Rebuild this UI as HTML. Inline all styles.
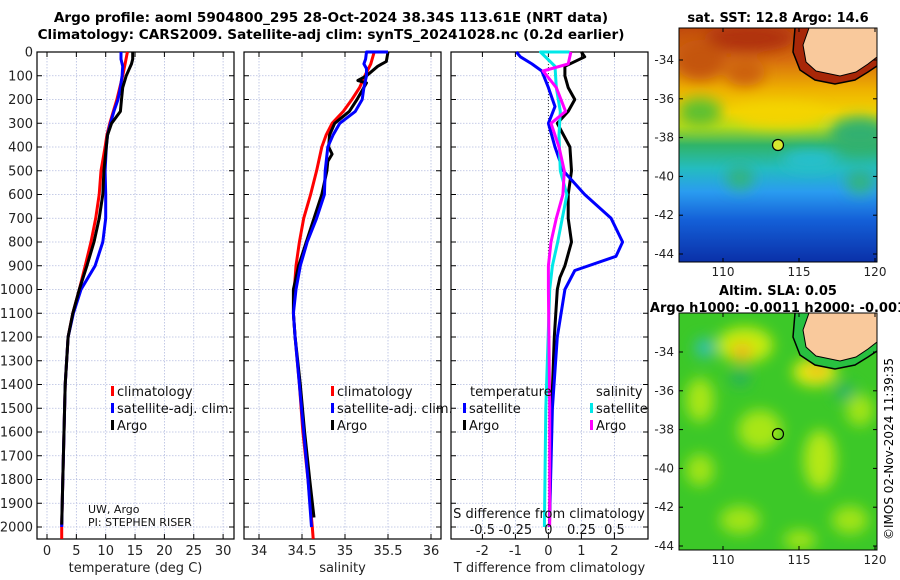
<!DOCTYPE html>
<html><head><meta charset="utf-8"><style>
html,body{margin:0;padding:0;background:#fff;}
svg{display:block;font-family:"DejaVu Sans","Liberation Sans",sans-serif;}
</style></head><body>
<svg id="c" width="900" height="580" viewBox="0 0 900 580" xmlns="http://www.w3.org/2000/svg">
<defs>
<filter id="bl" x="-50%" y="-50%" width="200%" height="200%"><feGaussianBlur stdDeviation="7"/></filter>
<clipPath id="m1"><rect x="679" y="28" width="198" height="234"/></clipPath>
<clipPath id="m2"><rect x="679" y="313" width="198" height="237"/></clipPath>
<linearGradient id="sstg" x1="0" y1="0" x2="0" y2="1">
<stop offset="0" stop-color="#c04a0c"/><stop offset="0.14" stop-color="#d8700e"/>
<stop offset="0.26" stop-color="#eeb000"/><stop offset="0.36" stop-color="#f2d400"/>
<stop offset="0.42" stop-color="#b8dc18"/><stop offset="0.5" stop-color="#30b468"/>
<stop offset="0.6" stop-color="#24bcc0"/><stop offset="0.7" stop-color="#2a9cf0"/>
<stop offset="0.82" stop-color="#1460d8"/><stop offset="1" stop-color="#0a30a8"/>
</linearGradient>
</defs>
<text x="331" y="22" font-size="13.6" font-weight="bold" text-anchor="middle">Argo profile: aoml 5904800_295 28-Oct-2024 38.34S 113.61E (NRT data)</text>
<text x="331" y="39" font-size="13.6" font-weight="bold" text-anchor="middle">Climatology: CARS2009. Satellite-adj clim: synTS_20241028.nc (0.2d earlier)</text>
<g id="plots"></g>

<g>
<text x="778" y="22" font-size="13" font-weight="bold" text-anchor="middle">sat. SST: 12.8 Argo: 14.6</text>
<g clip-path="url(#m1)">
<rect x="679" y="28" width="198" height="234" fill="url(#sstg)"/>
<g filter="url(#bl)">
<ellipse cx="750" cy="38" rx="45" ry="14" fill="#b0300a"/>
<ellipse cx="700" cy="60" rx="25" ry="20" fill="#c45410"/>
<ellipse cx="745" cy="72" rx="20" ry="14" fill="#cc6010"/>
<ellipse cx="700" cy="112" rx="22" ry="14" fill="#5cc030"/>
<ellipse cx="860" cy="135" rx="30" ry="18" fill="#30b070"/>
<ellipse cx="780" cy="115" rx="45" ry="12" fill="#f4d400"/>
<ellipse cx="740" cy="178" rx="14" ry="12" fill="#30b480"/>
<ellipse cx="860" cy="182" rx="14" ry="12" fill="#30b480"/>
<ellipse cx="810" cy="160" rx="28" ry="10" fill="#28c0d0"/>
</g>
<path d="M795,28 L793,52 L800,70 L815,80 L835,84 L855,80 L868,72 L877,66 L877,28 Z" fill="#a82808"/>
<path d="M809,28 L803,45 L806,62 L816,71 L840,76 L856,72 L868,64 L877,57 L877,28 Z" fill="#f9c99c"/>
<path d="M795,28 L793,52 L800,70 L815,80 L835,84 L855,80 L868,72 L877,66" fill="none" stroke="#000" stroke-width="1.5"/>
<path d="M809,28 L803,45 L806,62 L816,71 L840,76 L856,72 L868,64 L877,57" fill="none" stroke="#000" stroke-width="1"/>
<circle cx="778" cy="145" r="5.5" fill="#d8e830" stroke="#000" stroke-width="1.2"/>
</g>
<rect x="679" y="28" width="198" height="234" fill="none" stroke="#000" stroke-width="1"/>
<g id="map1ax" font-size="12"></g>
</g>

<g>
<text x="778" y="295" font-size="13" font-weight="bold" text-anchor="middle">Altim. SLA: 0.05</text>
<text x="778" y="312" font-size="13" font-weight="bold" text-anchor="middle">Argo h1000: -0.0011 h2000: -0.001</text>
<g clip-path="url(#m2)">
<rect x="679" y="313" width="198" height="237" fill="#3cc828"/>
<g filter="url(#bl)">
<ellipse cx="745" cy="345" rx="28" ry="18" fill="#c8ec10"/>
<ellipse cx="742" cy="352" rx="10" ry="9" fill="#f0b418"/>
<ellipse cx="705" cy="348" rx="10" ry="10" fill="#30c0b0"/>
<ellipse cx="815" cy="372" rx="22" ry="14" fill="#e8ec10"/>
<ellipse cx="817" cy="370" rx="10" ry="7" fill="#f0b820"/>
<ellipse cx="700" cy="400" rx="14" ry="22" fill="#a8e618"/>
<ellipse cx="760" cy="430" rx="22" ry="20" fill="#a8e618"/>
<ellipse cx="820" cy="460" rx="16" ry="30" fill="#b4e818"/>
<ellipse cx="700" cy="470" rx="14" ry="16" fill="#a0e418"/>
<ellipse cx="860" cy="410" rx="14" ry="16" fill="#a0e418"/>
<ellipse cx="740" cy="520" rx="20" ry="14" fill="#a0e418"/>
<ellipse cx="850" cy="520" rx="18" ry="14" fill="#a0e418"/>
<ellipse cx="800" cy="540" rx="16" ry="10" fill="#a0e418"/>
<ellipse cx="740" cy="378" rx="10" ry="8" fill="#28b060"/>
<ellipse cx="845" cy="392" rx="10" ry="8" fill="#28b070"/>
</g>
<path d="M795,313 L793,337 L800,355 L815,365 L835,369 L855,365 L868,357 L877,351 L877,313 Z" fill="#28c040"/>
<path d="M809,313 L803,330 L806,347 L816,356 L840,361 L856,357 L868,349 L877,342 L877,313 Z" fill="#f9c99c"/>
<path d="M795,313 L793,337 L800,355 L815,365 L835,369 L855,365 L868,357 L877,351" fill="none" stroke="#000" stroke-width="1.5"/>
<path d="M809,313 L803,330 L806,347 L816,356 L840,361 L856,357 L868,349 L877,342" fill="none" stroke="#000" stroke-width="1"/>
<circle cx="778" cy="434" r="5.5" fill="none" stroke="#000" stroke-width="1.2"/>
</g>
<rect x="679" y="313" width="198" height="237" fill="none" stroke="#000" stroke-width="1"/>
<g id="map2ax" font-size="12"></g>
</g>
<text transform="translate(893,540) rotate(-90)" font-size="12">©IMOS 02-Nov-2024 11:39:35</text>
</svg>
<script>
const NS='http://www.w3.org/2000/svg';
const svg=document.getElementById('c');
const plots=document.getElementById('plots');
function mk(tag,attrs,parent,text){const e=document.createElementNS(NS,tag);for(const k in attrs)e.setAttribute(k,attrs[k]);if(text!==undefined)e.textContent=text;(parent||plots).appendChild(e);return e;}

// ---- data ----
const depthTicks=[0,100,200,300,400,500,600,700,800,900,1000,1100,1200,1300,1400,1500,1600,1700,1800,1900,2000];
const tempTicks=[0,5,10,15,20,25,30];
const salTicks=[34,34.5,35,35.5,36];
const salTickLabels=['34','34.5','35','35.5','36'];
const tdiffTicks=[-2,-1,0,1,2];
const sdiffTicks=[-0.5,-0.25,0,0.25,0.5];
const sdiffTickLabels=['-0.5','-0.25','0','0.25','0.5'];

const tClimDepth=[0,50,100,150,200,250,300,350,400,500,600,700,800,900,1000,1100,1200,1400,1600,1800,2000,2050];
const tClim=[13.7,13.3,12.9,12.4,11.9,11.3,10.7,10.2,9.9,9.2,8.9,8.3,7.5,6.5,5.5,4.4,3.6,3.1,2.9,2.7,2.5,2.5];
const tSatDepth=[0,30,60,100,150,200,250,300,350,400,500,600,700,800,900,1000,1100,1200,1400,1600,1800,2000];
const tSat=[12.6,12.6,12.9,12.8,12.5,12.1,11.4,10.8,10.3,10.1,9.9,10.0,10.0,9.5,8.2,5.8,4.5,3.6,3.1,2.9,2.7,2.5];
const tArgoDepth=[0,30,50,100,150,200,250,300,350,400,500,600,700,800,900,1000,1100,1200,1400,1600,1800,1990];
const tArgo=[14.6,14.6,14.4,13.5,12.9,12.7,12.5,11.0,10.3,10.1,9.7,9.5,8.9,8.0,6.8,5.5,4.4,3.6,3.1,2.9,2.7,2.5];

const sClimDepth=[0,50,100,150,200,250,300,350,400,500,600,700,800,900,1000,1100,1200,1400,1600,1800,2000,2050];
const sClim=[35.34,35.30,35.23,35.17,35.08,34.98,34.85,34.78,34.73,34.67,34.60,34.52,34.47,34.43,34.41,34.40,34.42,34.47,34.51,34.57,34.62,34.63];
const sSatDepth=[0,0,30,50,70,100,150,200,250,300,350,400,500,600,700,800,900,1000,1100,1200,1400,1600,1800,2000];
const sSat=[35.5,35.25,35.24,35.22,35.25,35.25,35.22,35.20,35.12,34.94,34.86,34.80,34.77,34.76,34.67,34.56,34.48,34.43,34.40,34.42,34.47,34.52,34.57,34.61];
const sArgoDepth=[0,40,60,100,120,130,200,250,300,350,400,430,460,500,600,700,800,900,1000,1100,1200,1400,1600,1800,1960];
const sArgo=[35.5,35.48,35.38,35.25,35.15,35.25,35.14,35.05,34.88,34.82,34.81,34.85,34.80,34.79,34.73,34.64,34.55,34.46,34.40,34.40,34.42,34.48,34.53,34.59,34.64];

const dtSatDepth=[0,20,50,80,150,230,300,400,500,600,700,800,860,920,1000,1200,1500,2000];
const dtSat=[-0.97,-0.85,-0.5,-0.2,0,0.2,0,0.2,0.45,1.1,1.9,2.25,2.05,0.8,0.5,0.27,0.12,0.03];
const dtArgoDepth=[0,20,60,100,150,200,250,300,400,500,600,700,800,900,950,1000,1200,1500,2000];
const dtArgo=[1.0,1.1,0.5,0.5,0.6,0.8,0.6,0.27,0.65,0.7,0.6,0.6,0.7,0.5,0.35,0.27,0.18,0.1,0.03];
const dsSatDepth=[0,0,60,150,250,350,500,600,800,900,1000,1500,2000];
const dsSat=[0.16,-0.06,0.05,0.06,0.09,0.08,0.09,0.14,0.07,0.03,0.01,-0.02,-0.03];
const dsArgoDepth=[0,50,80,150,250,300,400,500,600,700,800,900,1000,1500,2000];
const dsArgo=[0.17,0.15,-0.04,0.06,0.13,0.02,0.08,0.12,0.11,0.06,0.02,0.0,0.0,0.01,0.01];

const lonTicks=[110,115,120];
const lat1Ticks=[-34,-36,-38,-40,-42,-44];

// ---- axes ----
const Y0=52, PY=0.2375, BOT=539;
const yD=d=>Y0+d*PY;
const xT=v=>47+v*5.87;
const xS=v=>259+(v-34)*86;
const xDT=v=>548.4+v*33;
const xDS=v=>548.4+v*132.2;
const panels=[{x0:37,x1:234,name:'temperature-panel'},{x0:244,x1:441,name:'salinity-panel'},{x0:451,x1:648,name:'difference-panel'}];

function panelFrame(p,xticks,xf,labels,xlabel,ylabels){
  const g=mk('g',{});
  
  
  depthTicks.forEach(d=>{mk('line',{x1:p.x0,x2:p.x1,y1:yD(d),y2:yD(d),stroke:'#b4bce0','stroke-width':0.8,'stroke-dasharray':'1.5,1.5'},g);});
  xticks.forEach(v=>{mk('line',{x1:xf(v),x2:xf(v),y1:Y0,y2:BOT,stroke:'#b4bce0','stroke-width':0.8,'stroke-dasharray':'1.5,1.5'},g);});
  depthTicks.forEach(d=>{
    mk('line',{x1:p.x0,x2:p.x0+5,y1:yD(d),y2:yD(d),stroke:'#000'},g);
    mk('line',{x1:p.x1-5,x2:p.x1,y1:yD(d),y2:yD(d),stroke:'#000'},g);
    if(ylabels){const t=mk('text',{x:33,y:yD(d)+4.5,'font-size':13,'text-anchor':'end',fill:'#222'},g,String(d));
      
      }
  });
  xticks.forEach((v,i)=>{
    mk('line',{x1:xf(v),x2:xf(v),y1:Y0,y2:Y0+5,stroke:'#000'},g);
    mk('line',{x1:xf(v),x2:xf(v),y1:BOT-5,y2:BOT,stroke:'#000'},g);
    const t=mk('text',{x:xf(v),y:555,'font-size':13,'text-anchor':'middle',fill:'#222'},g,labels[i]);
    
    
  });
  mk('rect',{x:p.x0,y:Y0,width:p.x1-p.x0,height:BOT-Y0,fill:'none',stroke:'#000','stroke-width':1.2},g);
  const xl=mk('text',{x:(p.x0+p.x1)/2,y:572,'font-size':13,'text-anchor':'middle',fill:'#222'},g,xlabel);
  
  
  return g;
}
function line(xs,ds,xf,color,name,w){
  const pts=xs.map((v,i)=>xf(v).toFixed(1)+','+yD(ds[i]).toFixed(1)).join(' ');
  const e=mk('polyline',{points:pts,fill:'none',stroke:color,'stroke-width':w||3,'stroke-linejoin':'round'});
  
  
}
function legend(x,y,color,label,name){
  mk('rect',{x:x,y:y-8,width:3,height:10,fill:color});
  const t=mk('text',{x:x+6,y:y+2,'font-size':13,fill:'#111'},plots,label);
  
  
}

panelFrame(panels[0],tempTicks,xT,tempTicks.map(String),'temperature (deg C)',true);
panelFrame(panels[1],salTicks,xS,salTickLabels,'salinity',false);
panelFrame(panels[2],tdiffTicks,xDT,tdiffTicks.map(String),'T difference from climatology',false);
const zl=mk('line',{x1:xDT(0),x2:xDT(0),y1:Y0,y2:BOT,stroke:'#333','stroke-width':1,'stroke-dasharray':'1,2'});



line(tClim,tClimDepth,xT,'#f00','temp-climatology-line');
line(tSat,tSatDepth,xT,'#00f','temp-satellite-line');
line(tArgo,tArgoDepth,xT,'#000','temp-argo-line');
line(sClim,sClimDepth,xS,'#f00','sal-climatology-line');
line(sArgo,sArgoDepth,xS,'#000','sal-argo-line');
line(sSat,sSatDepth,xS,'#00f','sal-satellite-line');
line(dtArgo,dtArgoDepth,xDT,'#000','tdiff-argo-line');
line(dtSat,dtSatDepth,xDT,'#00f','tdiff-satellite-line');
line(dsSat,dsSatDepth,xDS,'#00e8e8','sdiff-satellite-line');
line(dsArgo,dsArgoDepth,xDS,'#f0f','sdiff-argo-line');

legend(111,394,'#f00','climatology','legend-temp-climatology');
legend(111,411,'#00f','satellite-adj. clim.','legend-temp-satellite');
legend(111,428,'#000','Argo','legend-temp-argo');
legend(331,394,'#f00','climatology','legend-sal-climatology');
legend(331,411,'#00f','satellite-adj. clim.','legend-sal-satellite');
legend(331,428,'#000','Argo','legend-sal-argo');
let t=mk('text',{x:470,y:396,'font-size':13,fill:'#111'},plots,'temperature');


t=mk('text',{x:596,y:396,'font-size':13,fill:'#111'},plots,'salinity');


legend(463,411,'#00f','satellite','legend-tdiff-satellite');
legend(463,428,'#000','Argo','legend-tdiff-argo');
legend(590,411,'#00e8e8','satellite','legend-sdiff-satellite');
legend(590,428,'#f0f','Argo','legend-sdiff-argo');

t=mk('text',{x:88,y:513,'font-size':11,fill:'#111'},plots,'UW, Argo');


t=mk('text',{x:88,y:526,'font-size':11,fill:'#111'},plots,'PI: STEPHEN RISER');


t=mk('text',{x:549,y:518,'font-size':13,'text-anchor':'middle',fill:'#111'},plots,'S difference from climatology');


sdiffTicks.forEach((v,i)=>{
  const e=mk('text',{x:xDS(v),y:534,'font-size':13,'text-anchor':'middle',fill:'#111'},plots,sdiffTickLabels[i]);
  
  
});

function mapAxes(gid,top,bottom,latTop){
  const g=document.getElementById(gid);
  const xL=v=>723+(v-110)*15.2;
  lonTicks.forEach(v=>{
    mk('line',{x1:xL(v),x2:xL(v),y1:bottom,y2:bottom-4,stroke:'#000'},g);
    mk('line',{x1:xL(v),x2:xL(v),y1:top,y2:top+4,stroke:'#000'},g);
    const e=mk('text',{x:xL(v),y:bottom+14,'text-anchor':'middle',fill:'#222'},g,String(v));
    
    
  });
  lat1Ticks.forEach(v=>{
    const y=latTop+(-34-v)*19.4;
    mk('line',{x1:679,x2:683,y1:y,y2:y,stroke:'#000'},g);
    mk('line',{x1:873,x2:877,y1:y,y2:y,stroke:'#000'},g);
    const e=mk('text',{x:674,y:y+4,'text-anchor':'end',fill:'#222'},g,String(v));
    
    
  });
}
mapAxes('map1ax',28,262,60);
mapAxes('map2ax',313,550,352);
</script>
</body></html>
